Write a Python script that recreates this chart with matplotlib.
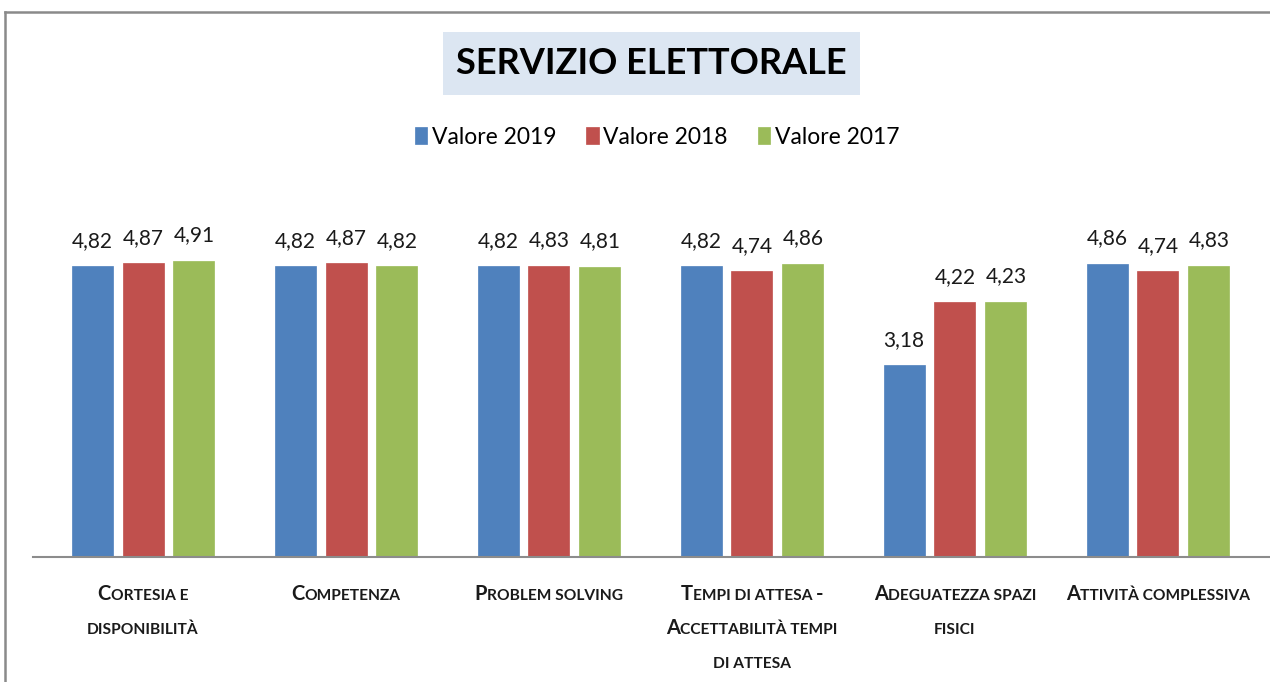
import matplotlib
matplotlib.use("Agg")
import matplotlib.pyplot as plt
from matplotlib.transforms import IdentityTransform
from matplotlib.lines import Line2D
from matplotlib.patches import Rectangle
import numpy as np

categories = ["Cortesia e\ndisponibilità", "Competenza", "Problem solving",
              "Tempi di attesa -\nAccettabilità tempi\ndi attesa",
              "Adeguatezza spazi\nfisici", "Attività complessiva"]
series_names = ["Valore 2019", "Valore 2018", "Valore 2017"]
v2019 = [4.82, 4.82, 4.82, 4.82, 3.18, 4.86]
v2018 = [4.87, 4.87, 4.83, 4.74, 4.22, 4.74]
v2017 = [4.91, 4.82, 4.81, 4.86, 4.23, 4.83]
title = "SERVIZIO ELETTORALE"

colors = ["#4F81BD", "#C0504D", "#9BBB59"]
FONT = ["Lato", "DejaVu Sans"]
plt.rcParams['font.family'] = FONT

W, H = 1270, 682
fig = plt.figure(figsize=(W / 100, H / 100), dpi=100)
fig.patch.set_facecolor("white")

ax_left, ax_right = 33, 1270
ax_bottom, ax_top = 557, 195
ax = fig.add_axes([ax_left / W, 1 - ax_bottom / H, (ax_right - ax_left) / W, (ax_bottom - ax_top) / H])

x = np.arange(len(categories))
bw = 0.202
off = 0.251
for k, (vals, c) in enumerate(zip([v2019, v2018, v2017], colors)):
    bars = ax.bar(x + (k - 1) * off, vals, width=bw, color=c, label=series_names[k],
                  edgecolor=c, linewidth=0.5)
    for b, v in zip(bars, vals):
        ax.annotate(f"{v:.2f}".replace(".", ","), (b.get_x() + b.get_width() / 2, v),
                    xytext=(0, 11), textcoords="offset points", ha="center", va="bottom",
                    fontsize=15, color="#1a1a1a")

ax.set_xlim(-0.542, 5.552)
ax.set_ylim(0, 6)
for s in ["top", "right", "left"]:
    ax.spines[s].set_visible(False)
ax.spines["bottom"].set_color("#8c8c8c")
ax.spines["bottom"].set_linewidth(1.5)
ax.set_xticks([])
ax.set_yticks([])
ax.patch.set_alpha(0)

# legend
leg = fig.legend(*ax.get_legend_handles_labels(), loc="center", bbox_to_anchor=(657 / W, 1 - 137 / H),
                 ncol=3, frameon=False, fontsize=16.5, handlelength=0.55, handleheight=0.8,
                 handletextpad=0.2, columnspacing=1.3)

# title box and text
fig.add_artist(Rectangle((443 / W, 1 - 95 / H), (860 - 443) / W, (95 - 32) / H,
                         transform=fig.transFigure, facecolor="#DCE6F2", edgecolor="none"))
fig.text(651 / W, 1 - 64 / H, title, ha="center", va="center", fontsize=26, fontweight="bold",
         color="black")

# frame lines
fig.add_artist(Line2D([5 / W, 1], [1 - 12 / H, 1 - 12 / H], color="#8a8a8a", lw=1.8, transform=fig.transFigure))
fig.add_artist(Line2D([5 / W, 5 / W], [1 - 12 / H, 0], color="#8a8a8a", lw=1.8, transform=fig.transFigure))

# small-caps category labels
renderer = fig.canvas.get_renderer()
BIG, SMALL = 14.5, 11.2
first_line_px = 600  # baseline of first line (from top)
line_gap = 34

def runs_of(line):
    runs = []
    for ch in line:
        big = ch.isupper() or ch == "-"
        txt = ch.upper()
        if runs and runs[-1][1] == big:
            runs[-1][0] += txt
        else:
            runs.append([txt, big])
    return runs

for i, lab in enumerate(categories):
    cx = ax.transData.transform((x[i], 0))[0]
    for j, line in enumerate(lab.split("\n")):
        y_disp = H - (first_line_px + j * line_gap)
        texts = []
        for txt, big in runs_of(line):
            t = fig.text(0, y_disp, txt, transform=IdentityTransform(), fontsize=BIG if big else SMALL,
                         fontweight="bold", ha="left", va="baseline", color="#1a1a1a")
            texts.append(t)
        widths = [t.get_window_extent(renderer).width for t in texts]
        total = sum(widths)
        xpos = cx - total / 2
        for t, w in zip(texts, widths):
            t.set_x(xpos)
            xpos += w

fig.savefig("out.png", dpi=100, facecolor="white")
